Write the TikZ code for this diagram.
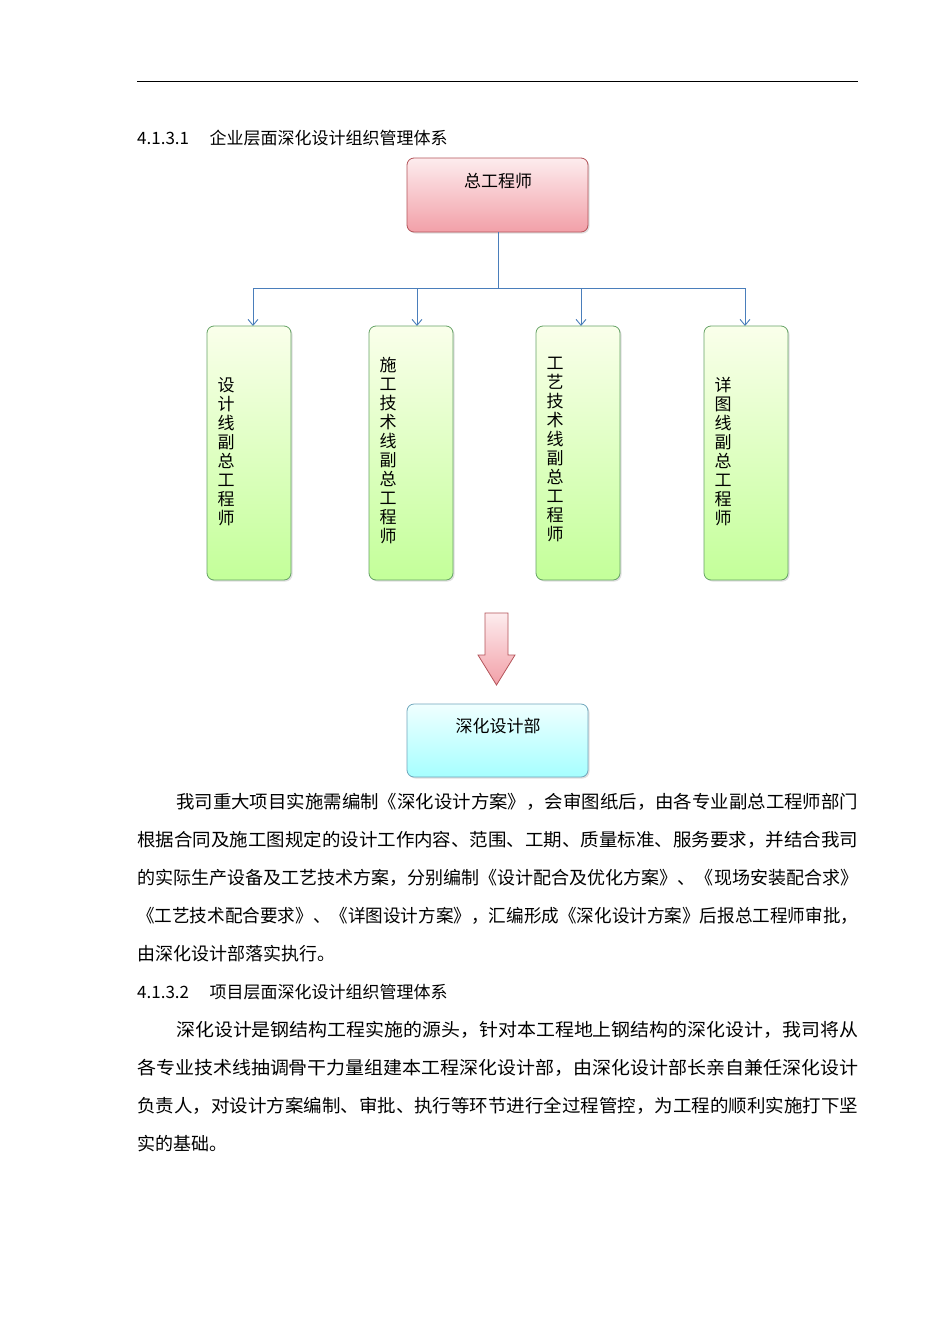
\documentclass[tikz,border=0pt]{standalone}
\usepackage{fontspec}
\usepackage{graphicx}
\setmainfont{Noto Sans CJK SC}
\usetikzlibrary{arrows.meta,shadows}
\definecolor{steel}{HTML}{4A7EBB}
\definecolor{pinktop}{HTML}{FDECEE}
\definecolor{pinkbot}{HTML}{F2A0A8}
\definecolor{pinkbd}{HTML}{B4545A}
\begin{document}
\begin{tikzpicture}[x=1pt,y=-1pt,
  pinkbox/.style={draw=pinkbd,rounded corners=7pt,top color=pinktop,bottom color=pinkbot,line width=0.8pt,drop shadow={opacity=0.25,shadow xshift=1.5pt,shadow yshift=-1.5pt}},
  greenbox/.style={draw=green!40!black!60,rounded corners=7pt,top color=lime!8,bottom color=lime!55!green!40,line width=0.8pt,drop shadow={opacity=0.25,shadow xshift=1.5pt,shadow yshift=-1.5pt}},
  cyanbox/.style={draw=cyan!60!black!70,rounded corners=7pt,top color=cyan!6,bottom color=cyan!35,line width=0.8pt,drop shadow={opacity=0.25,shadow xshift=1.5pt,shadow yshift=-1.5pt}},
  conn/.style={draw=steel,line width=0.9pt},
  arr/.style={conn,-{Straight Barb[length=6pt,width=10pt]}},
  vtext/.style={font=\fontsize{17pt}{19pt}\selectfont,align=center,anchor=north},
  line/.style={anchor=base west,inner sep=0pt,font=\fontsize{18pt}{18pt}\selectfont},
  title/.style={font=\fontsize{17pt}{17pt}\selectfont}]
\useasboundingbox[fill=white] (0,0) rectangle (950,1344);
\draw[line width=0.6pt] (137,81) -- (858,81);
\node[line,title] (h1) at (137,144) {4.1.3.1\hspace{1.2em}企业层面深化设计组织管理体系};
% top box
\path[pinkbox] (407,158) rectangle (588,232);
\node[title] (top) at (498,181) {总工程师};
\coordinate (topbot) at (498,232);
\coordinate (junc) at (498,288);
\foreach \n/\x in {a/253,b/417,c/581,d/745}{
  \coordinate (g\n) at (\x,288);
  \coordinate (e\n) at (\x,326);
}
\draw[conn] (topbot) -- (junc);
\draw[conn] (ga) -- (gd);
\foreach \n in {a,b,c,d}{\draw[arr] (g\n) -- (e\n);}
% green boxes
\path[greenbox] (207,326) rectangle (291,580);
\path[greenbox] (369,326) rectangle (453,580);
\path[greenbox] (536,326) rectangle (620,580);
\path[greenbox] (704,326) rectangle (788,580);
\node[vtext] (va) at (226,374) {设\\计\\线\\副\\总\\工\\程\\师};
\node[vtext] (vb) at (388,354) {施\\工\\技\\术\\线\\副\\总\\工\\程\\师};
\node[vtext] (vc) at (555,354) {工\\艺\\技\\术\\线\\副\\总\\工\\程\\师};
\node[vtext] (vd) at (723,374) {详\\图\\线\\副\\总\\工\\程\\师};
% big arrow
\path[draw=pinkbd,line width=0.8pt,top color=pinktop,bottom color=pinkbot]
  (485,613) -- (508,613) -- (508,655) -- (515,655) -- (496.5,685) -- (478,655) -- (485,655) -- cycle;
% bottom box
\path[cyanbox] (407,704) rectangle (588,777);
\node[title] (dep) at (498,726) {深化设计部};
% paragraphs
\node[line] (p1) at (176,808) {\resizebox{682pt}{\height}{我司重大项目实施需编制《深化设计方案》，会审图纸后，由各专业副总工程师部门}};
\node[line] (p2) at (137,846) {\resizebox{721pt}{\height}{根据合同及施工图规定的设计工作内容、范围、工期、质量标准、服务要求，并结合我司}};
\node[line] (p3) at (137,884) {\resizebox{721pt}{\height}{的实际生产设备及工艺技术方案，分别编制《设计配合及优化方案》、《现场安装配合求》}};
\node[line] (p4) at (137,922) {\resizebox{721pt}{\height}{《工艺技术配合要求》、《详图设计方案》，汇编形成《深化设计方案》后报总工程师审批，}};
\node[line] (p5) at (137,960) {由深化设计部落实执行。};
\node[line,title] (h2) at (137,998) {4.1.3.2\hspace{1.2em}项目层面深化设计组织管理体系};
\node[line] (q1) at (176,1036) {\resizebox{682pt}{\height}{深化设计是钢结构工程实施的源头，针对本工程地上钢结构的深化设计，我司将从}};
\node[line] (q2) at (137,1074) {\resizebox{721pt}{\height}{各专业技术线抽调骨干力量组建本工程深化设计部，由深化设计部长亲自兼任深化设计}};
\node[line] (q3) at (137,1112) {\resizebox{721pt}{\height}{负责人，对设计方案编制、审批、执行等环节进行全过程管控，为工程的顺利实施打下坚}};
\node[line] (q4) at (137,1150) {实的基础。};
\end{tikzpicture}
\end{document}
